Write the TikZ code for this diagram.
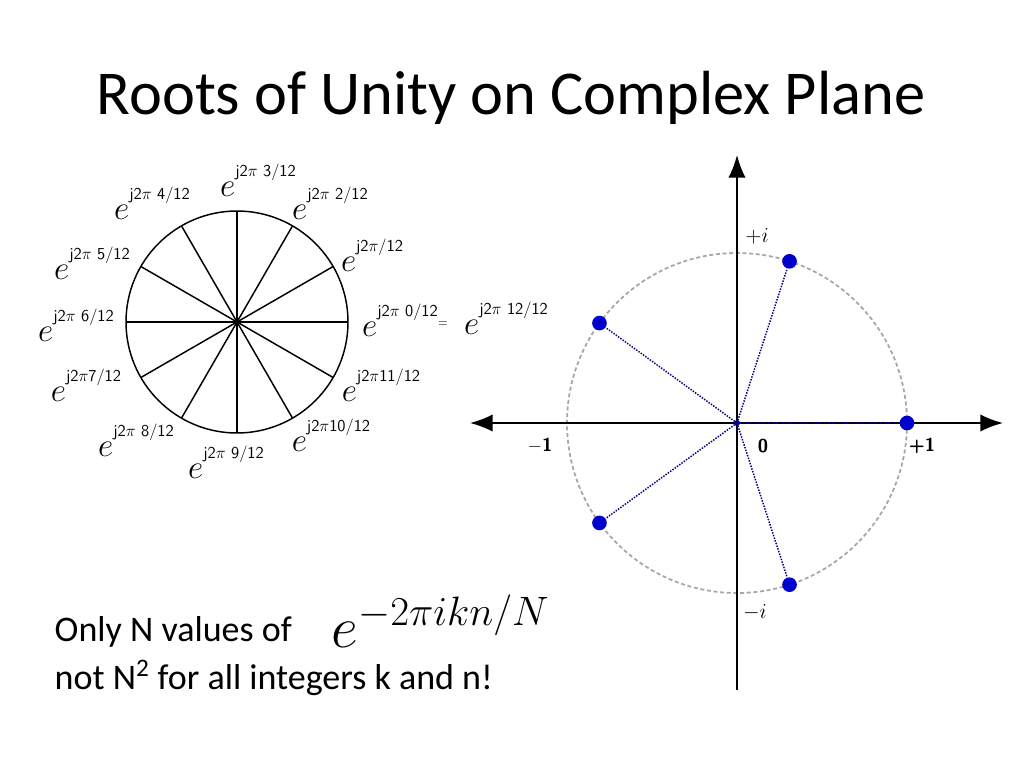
\documentclass[tikz,border=0pt]{standalone}
\usepackage{fix-cm}
\usepackage{fontspec}
\setmainfont{Carlito}
\usepackage{amsmath}
\usetikzlibrary{arrows.meta,calc}
\newcommand{\rt}[1]{\fontsize{25}{25}\selectfont$e$\raisebox{1.25ex}{\fontsize{12.5}{12.5}\selectfont\sffamily #1}}
\begin{document}
\begin{tikzpicture}[x=0.75pt,y=-0.75pt,
    lbl/.style={inner sep=0pt},
    spoke/.style={line width=1.1pt},
    ray/.style={densely dotted,line width=1.1pt,blue!50!black},
    root/.style={circle,fill=blue!80!black,inner sep=0pt,minimum size=11pt},
    axis/.style={line width=1.3pt,-{Latex[length=17pt,width=13pt]}}]
  \useasboundingbox (0,0) rectangle (1024,768);
  \node (title) at (511,98) {\fontsize{46.8}{46.8}\selectfont Roots of Unity on Complex Plane};
  % left wheel
  \coordinate (c) at (237,322);
  \draw[line width=1.1pt] (c) circle (111);
  \foreach \k in {0,...,11}
    \draw[spoke] (c) -- ++({-30*\k}:111);
  \node[lbl] (r3) at (258,180) {\rt{j2$\pi$ 3/12}};
  \node[lbl] (r4) at (152,203) {\rt{j2$\pi$ 4/12}};
  \node[lbl] (r2) at (330,203) {\rt{j2$\pi$ 2/12}};
  \node[lbl] (r1) at (372,255) {\rt{j2$\pi$/12}};
  \node[lbl] (r5) at (92,263) {\rt{j2$\pi$ 5/12}};
  \node[lbl] (r0) at (400,320) {\rt{j2$\pi$ 0/12}};
  \node (eq) at (443,324) {\fontsize{9}{9}\selectfont\sffamily =};
  \node[lbl] (r12) at (506,318) {\rt{j2$\pi$ 12/12}};
  \node[lbl] (r6) at (76,325) {\rt{j2$\pi$ 6/12}};
  \node[lbl] (r11) at (381,385) {\rt{j2$\pi$11/12}};
  \node[lbl] (r7) at (86,385) {\rt{j2$\pi$7/12}};
  \node[lbl] (r10) at (331,435) {\rt{j2$\pi$10/12}};
  \node[lbl] (r8) at (136,440) {\rt{j2$\pi$ 8/12}};
  \node[lbl] (r9) at (226,462) {\rt{j2$\pi$ 9/12}};
  % complex plane
  \coordinate (o) at (737,423);
  \draw[gray!70,densely dashed,line width=1.3pt] (o) circle (170);
  \draw[axis] (o) -- (1003,423);
  \draw[axis] (o) -- (470,423);
  \draw[axis] (o) -- (737,155);
  \draw[line width=1.3pt] (o) -- (737,690);
  \fill[blue!50!black] (o) circle (3);
  \foreach \k in {0,...,4}{
    \node[root] (p\k) at ($(o)+({72*\k}:170 and -170)$) {};
    \draw[ray] (o) -- (p\k);
  }
  \node (pi) at (757,236) {\fontsize{16}{16}\selectfont$+i$};
  \node (mi) at (755,612) {\fontsize{16}{16}\selectfont$-i$};
  \node (p1) at (922,446) {\fontsize{14}{14}\selectfont\sffamily\bfseries +1};
  \node (m1) at (540,446) {\fontsize{14}{14}\selectfont\sffamily\bfseries $-$1};
  \node (zero) at (763,446) {\fontsize{14}{14}\selectfont\sffamily\bfseries 0};
  % caption
  \node[anchor=west] (txt1) at (50,632) {\fontsize{27}{27}\selectfont Only N values of};
  \node[anchor=west] (txt2) at (50,678) {\fontsize{27}{27}\selectfont not N\textsuperscript{2} for all integers k and n!};
  \node[anchor=west] (fml) at (327,621) {\fontsize{44}{44}\selectfont$e^{-2\pi ikn/N}$};
\end{tikzpicture}
\end{document}
